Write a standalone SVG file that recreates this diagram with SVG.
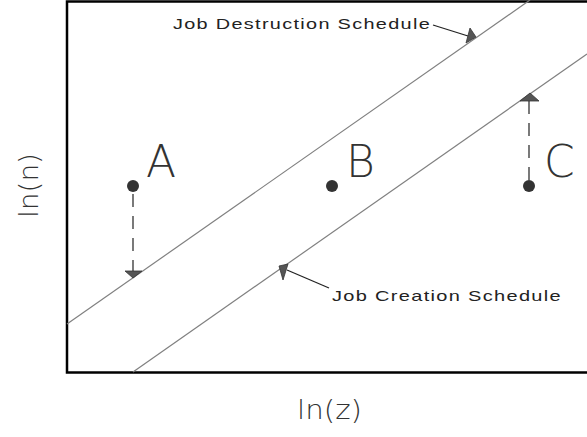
<svg xmlns="http://www.w3.org/2000/svg" width="587" height="437" viewBox="0 0 587 437">
<style>
.frame{fill:none;stroke:#000;stroke-width:2.5}
.sched{stroke:#808080;stroke-width:1.2;fill:none}
.lead{stroke:#222;stroke-width:1.3;fill:none}
.dash{stroke:#333;stroke-width:1.3;stroke-dasharray:13 9;fill:none}
.head{fill:#555;stroke:#333;stroke-width:0.8}
.dot{fill:#333}
.big{font-family:"DejaVu Sans","Liberation Sans",sans-serif;font-weight:200;font-size:44px;fill:#333}
.lbl{font-family:"Liberation Sans","DejaVu Sans",sans-serif;font-size:15px;letter-spacing:1px;fill:#222}
.axis{font-family:"DejaVu Sans","Liberation Sans",sans-serif;font-weight:200;font-size:27px;fill:#333}
</style>
<rect width="587" height="437" fill="#fff"/>
<g id="frame">
<polyline class="frame" points="600,1.5 67,1.5 67,372.5 600,372.5"/>
</g>
<g id="connectors">
<line class="sched" x1="67" y1="324" x2="530" y2="0"/>
<line class="sched" x1="133" y1="372" x2="587" y2="54"/>
<line class="lead" x1="433" y1="25" x2="468" y2="36"/>
<polygon class="head" points="476,37 466,43 470,28"/>
<line class="lead" x1="329" y1="288" x2="287" y2="270"/>
<polygon class="head" points="279,266 283,280 288,264"/>
<line class="dash" x1="133" y1="194" x2="133" y2="271"/>
<polygon class="head" points="125,271 142,271 133,278"/>
<line class="dash" x1="529" y1="180" x2="529" y2="101"/>
<polygon class="head" points="520,101 539,101 530,93"/>
</g>
<g id="A"><circle class="dot" cx="133" cy="186" r="6"/><text class="big" x="146" y="177">A</text></g>
<g id="B"><circle class="dot" cx="332" cy="186" r="6"/><text class="big" x="346" y="177">B</text></g>
<g id="C"><circle class="dot" cx="529" cy="186" r="6"/><text class="big" x="544" y="177">C</text></g>
<g id="destruction"><text class="lbl" x="173" y="29" textLength="258" lengthAdjust="spacingAndGlyphs">Job Destruction Schedule</text></g>
<g id="creation"><text class="lbl" x="332" y="301" textLength="230" lengthAdjust="spacingAndGlyphs">Job Creation Schedule</text></g>
<g id="xaxis"><text class="axis" x="297" y="419" textLength="65" lengthAdjust="spacingAndGlyphs">ln(z)</text></g>
<g id="yaxis"><text class="axis" transform="translate(38,218) rotate(-90)" x="0" y="0" textLength="65" lengthAdjust="spacingAndGlyphs">ln(n)</text></g>
</svg>
